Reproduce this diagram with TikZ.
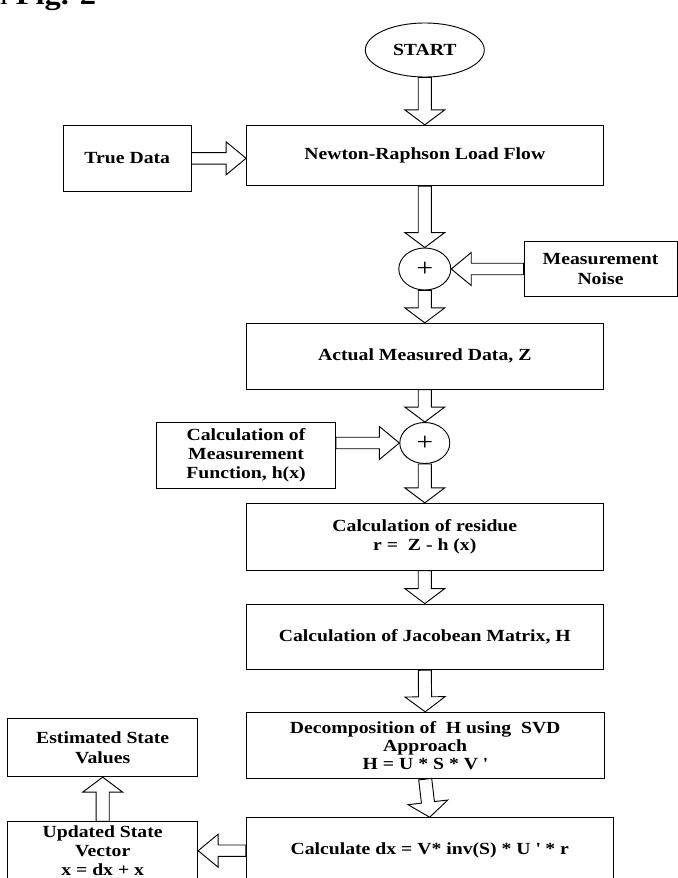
\documentclass[tikz,border=0pt]{standalone}
\usepackage{fontspec}
\setmainfont{Liberation Serif}[FakeStretch=1.16]
\usetikzlibrary{shapes,calc,positioning}

\begin{document}
\begin{tikzpicture}[x=0.75pt, y=-0.75pt, line width=0.7pt,
    box/.style={draw, rectangle, align=center, inner sep=0pt,
      font=\fontsize{12.75}{14.6}\selectfont\bfseries},
    sum/.style={draw, ellipse, inner sep=0pt, minimum width=39pt,
      minimum height=31.5pt, font=\fontsize{19}{20}\selectfont},
    fat size/.code n args={3}{\def\fatshaft{#1}\def\fathead{#2}\def\fatlen{#3}},
    fat/.style={draw, fat size={4.9pt}{15pt}{11.25pt}, to path={
      ($(\tikztostart)!\fatshaft!90:(\tikztotarget)$)
      -- ($(\tikztotarget)!\fatlen!(\tikztostart)!\fatshaft!90:(\tikztotarget)$)
      -- ($(\tikztotarget)!\fatlen!(\tikztostart)!\fathead!90:(\tikztotarget)$)
      -- (\tikztotarget)
      -- ($(\tikztotarget)!\fatlen!(\tikztostart)!\fathead!-90:(\tikztotarget)$)
      -- ($(\tikztotarget)!\fatlen!(\tikztostart)!\fatshaft!-90:(\tikztotarget)$)
      -- ($(\tikztostart)!\fatshaft!-90:(\tikztotarget)$)
      -- cycle}},
    hfat/.style={fat, fat size={4.3pt}{12.4pt}{15pt}}]
    \useasboundingbox (0,0) rectangle (678,878);
    \clip (0,0) rectangle (678,878);

    \node[anchor=base east, font=\fontsize{21}{24}\selectfont] (cap) at (101,4.5) {in \textbf{Fig. 2}};

    % main column
    \node[box, ellipse, minimum width=89.25pt, minimum height=40.5pt] (start) at (424.8,50) {START};
    \node[box, minimum width=267.4pt, minimum height=45.3pt] (nrlf) at (424.8,155.5) {Newton-Raphson Load Flow};
    \node[sum] (sum1) at (424.8,269) {+};
    \node[box, minimum width=267.4pt, minimum height=49.3pt] (zmeas) at (424.8,356.2) {Actual Measured Data, Z};
    \node[sum, minimum width=37.5pt, minimum height=30.75pt] (sum2) at (424.8,443) {+};
    \node[box, minimum width=267.4pt, minimum height=50.25pt] (resid) at (424.8,536.8) {Calculation of residue\\r =~ Z - h (x)};
    \node[box, minimum width=267.4pt, minimum height=49.3pt] (jac) at (424.8,636.9) {Calculation of Jacobean Matrix, H};
    \node[box, minimum width=268.2pt, minimum height=49.8pt, font=\fontsize{12.75}{13.6}\selectfont\bfseries] (svd) at (425.2,745.5)
        {Decomposition of~ H using~ SVD\\Approach\\H = U * S * V \textquotesingle};
    \node[box, minimum width=275pt, minimum height=49.5pt] (dx) at (429.7,850.7)
        {Calculate dx = V* inv(S) * U \textquotesingle\ * r};

    % side boxes
    \node[box, minimum width=95.6pt, minimum height=49pt] (truedata) at (127.3,158.3) {True Data};
    \node[box, minimum width=114.75pt, minimum height=41.5pt] (noise) at (600.5,269) {Measurement\\Noise};
    \node[box, minimum width=134.25pt, minimum height=49.5pt] (hfun) at (246,455.3) {Calculation of\\Measurement\\Function, h(x)};
    \node[box, minimum width=142.5pt, minimum height=43.3pt] (est) at (102.7,747.8) {Estimated State\\Values};
    \node[box, minimum width=142.5pt, minimum height=43.5pt] (upd) at (102.7,850.7) {Updated State\\Vector\\x = dx + x};

    \coordinate (tdout) at (truedata.east);
    \coordinate (nrin) at (tdout -| nrlf.west);
    \coordinate (hfout) at (hfun.east |- sum2.west);

    \draw (start.south) to[fat] (nrlf.north);
    \draw (tdout) to[hfat] (nrin);
    \draw (nrlf.south) to[fat] (sum1.north);
    \draw (noise.west) to[hfat] (sum1.east);
    \draw (sum1.south) to[fat] (zmeas.north);
    \draw (zmeas.south) to[fat] (sum2.north);
    \draw (hfout) to[hfat] (sum2.west);
    \draw (sum2.south) to[fat] (resid.north);
    \draw (resid.south) to[fat] (jac.north);
    \draw (jac.south) to[fat] (svd.north);
    \draw (svd.south) to[fat] (dx.north);
    \draw (dx.west) to[hfat] (upd.east);
    \draw (upd.north) to[fat] (est.south);
\end{tikzpicture}
\end{document}
